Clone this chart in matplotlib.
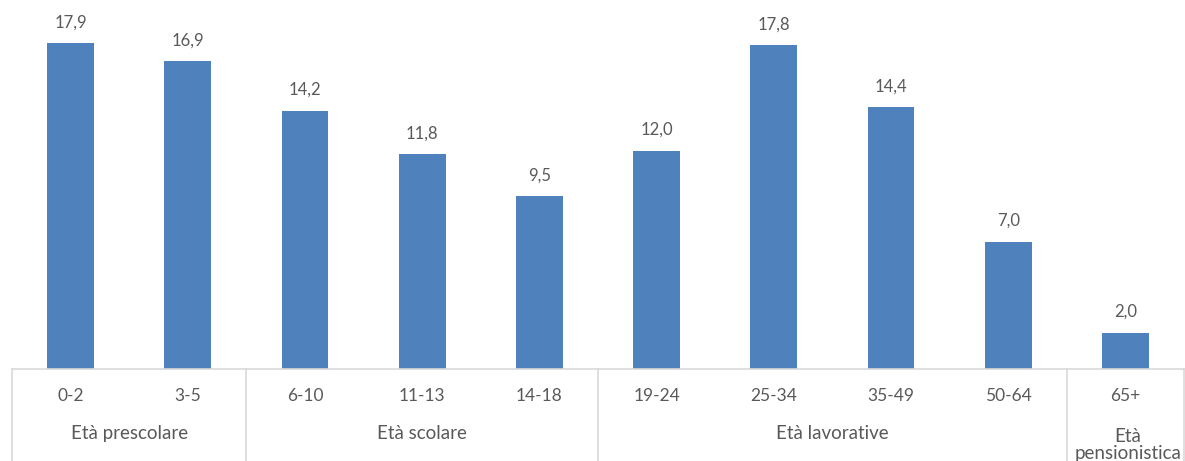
import matplotlib.pyplot as plt
import matplotlib.transforms as mtransforms

# dati
fasce = ['0-2', '3-5', '6-10', '11-13', '14-18', '19-24', '25-34', '35-49', '50-64', '65+']
valori = [17.9, 16.9, 14.2, 11.8, 9.5, 12.0, 17.8, 14.4, 7.0, 2.0]
gruppi = ['Età prescolare', 'Età scolare', 'Età lavorative', 'Età\npensionistica']
gruppi_n = [2, 3, 4, 1]

colore_barre = '#4F81BD'
colore_testo = '#595959'
colore_linee = '#D9D9D9'

plt.rcParams['font.family'] = ['Lato', 'DejaVu Sans']

fig = plt.figure(figsize=(11.85, 4.61), dpi=100)
ax = fig.add_axes([12 / 1185, 92 / 461, 1172 / 1185, 364 / 461])

x = list(range(len(fasce)))
ax.bar(x, valori, width=0.4, color=colore_barre)
for xi, v in zip(x, valori):
    ax.annotate(f'{v:.1f}'.replace('.', ','), (xi, v), xytext=(0, 9),
                textcoords='offset points', ha='center', va='bottom',
                fontsize=12, color=colore_testo)

ax.set_xlim(-0.5, len(fasce) - 0.5)
ax.set_ylim(0, 20)
ax.set_yticks([])
ax.set_xticks([])
for s in ['top', 'right', 'left']:
    ax.spines[s].set_visible(False)
ax.spines['bottom'].set_color(colore_linee)
ax.spines['bottom'].set_linewidth(1.2)

trans = mtransforms.blended_transform_factory(ax.transData, ax.transAxes)

# etichette fasce
for xi, f in zip(x, fasce):
    ax.text(xi, -0.075, f, transform=trans, ha='center', va='center',
            fontsize=12.5, color=colore_testo)

# gruppi e separatori
start = 0
confini = [start - 0.5]
for g, n in zip(gruppi, gruppi_n):
    centro = start + (n - 1) / 2
    if '\n' in g:
        ax.text(centro + 0.02, -0.21, g, transform=trans, ha='center', va='center',
                fontsize=13.5, color=colore_testo, linespacing=1.0)
    else:
        ax.text(centro, -0.177, g, transform=trans, ha='center', va='center',
                fontsize=13.5, color=colore_testo)
    start += n
    confini.append(start - 0.5)

for c in confini:
    ax.plot([c, c], [0, -0.26], transform=trans, color=colore_linee,
            linewidth=1.2, clip_on=False)

fig.savefig('out.png', dpi=100)
